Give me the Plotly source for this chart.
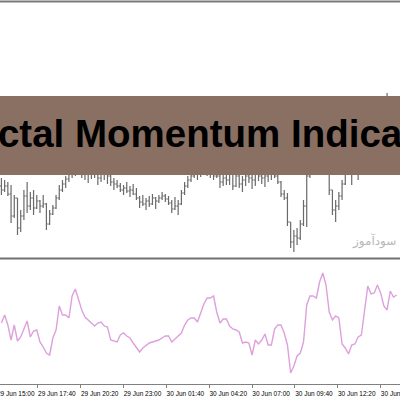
import plotly.graph_objects as go
import pandas as pd

# ---- data ----
times = pd.date_range("2020-06-29 15:24", periods=124, freq="12min")

lows = [61, 64, 60, 33, 38, 21, 24, 36, 43, 46,
        41, 47, 43, 48, 26, 31, 41, 47, 56, 64,
        68, 74, 78, 80, 81, 78, 76, 73, 77, 78,
        71, 74, 76, 72, 70, 66, 68, 64, 61, 63,
        59, 61, 56, 48, 50, 46, 49, 51, 47, 53,
        56, 54, 51, 43, 46, 41, 51, 61, 68, 74,
        78, 76, 79, 81, 80, 78, 76, 78, 68, 70,
        71, 71, 66, 69, 68, 64, 70, 73, 67, 70,
        75, 72, 69, 74, 76, 78, 72, 59, 56, 30,
        8, 4, 11, 16, 30, 29, 78, 88, 96, 91,
        86, 83, 61, 41, 34, 46, 56, 71, 84, 71,
        82, 76, 84, 88, 91, 96, 94, 98, 101, 106,
        116, 111, 106, 108]

highs = [78, 76, 74, 71, 61, 58, 46, 66, 74, 64,
         66, 61, 56, 61, 53, 46, 51, 61, 71, 76,
         80, 91, 96, 106, 104, 101, 96, 94, 98, 96,
         93, 93, 96, 90, 86, 78, 76, 73, 71, 74,
         70, 72, 68, 60, 61, 58, 60, 62, 59, 61,
         64, 62, 60, 56, 59, 56, 66, 74, 80, 84,
         88, 86, 91, 96, 94, 92, 90, 91, 81, 82,
         84, 86, 83, 86, 84, 80, 84, 88, 82, 84,
         88, 86, 83, 88, 90, 91, 86, 75, 66, 63,
         34, 26, 28, 36, 56, 86, 106, 116, 121, 116,
         106, 101, 88, 66, 56, 64, 76, 86, 101, 96,
         98, 91, 106, 111, 116, 121, 118, 126, 131, 136,
         163, 141, 136, 138]

closes = [66, 70, 62, 40, 58, 28, 40, 60, 50, 58,
          48, 55, 50, 52, 32, 42, 48, 58, 66, 72,
          77, 86, 90, 100, 88, 94, 82, 90, 84, 92,
          78, 88, 82, 80, 74, 72, 70, 66, 68, 65,
          66, 62, 58, 54, 52, 55, 52, 58, 55, 58,
          60, 57, 53, 47, 50, 52, 63, 70, 76, 80,
          84, 82, 88, 90, 84, 88, 80, 80, 74, 78,
          76, 82, 70, 80, 72, 76, 80, 78, 76, 82,
          80, 78, 80, 84, 82, 80, 74, 62, 58, 34,
          14, 20, 18, 32, 50, 80, 100, 110, 104, 96,
          90, 86, 66, 46, 50, 60, 72, 84, 95, 86,
          92, 88, 100, 105, 110, 102, 112, 120, 125, 130,
          136, 120, 130, 125]

first_open = 70
opens = [first_open] + closes[:-1]

momentum = [61, 69, 59, 44, 59, 43, 47, 56, 63, 47,
            53, 54, 42, 37, 31, 29, 46, 54, 78, 69,
            69, 66, 88, 95, 84, 74, 67, 64, 62, 58,
            61, 62, 58, 57, 44, 43, 42, 49, 51, 48,
            46, 41, 36, 32, 36, 39, 41, 42, 43, 44,
            46, 48, 48, 42, 45, 48, 51, 59, 64, 66,
            66, 62, 71, 80, 86, 86, 88, 72, 61, 65,
            65, 58, 55, 54, 52, 41, 42, 41, 29, 44,
            40, 44, 50, 39, 39, 55, 59, 59, 51, 39,
            11, 18, 28, 31, 42, 79, 88, 88, 86, 102,
            111, 99, 72, 64, 68, 66, 40, 36, 30, 39,
            40, 47, 49, 74, 98, 90, 91, 99, 91, 78,
            74, 93, 87, 89]

title_text = "Fractal Momentum Indicator"
watermark_text = "سودآموز"
first_tick_label = "29 Jun 15:00"

# ---- figure ----
bar_gray = "#6a6a6a"
fig = go.Figure()
fig.add_trace(go.Ohlc(
    x=times, open=opens, high=highs, low=lows, close=closes,
    xaxis="x2", yaxis="y2", tickwidth=0.45,
    increasing=dict(line=dict(color=bar_gray, width=1.2)),
    decreasing=dict(line=dict(color=bar_gray, width=1.2)),
    showlegend=False, hoverinfo="skip"))
fig.add_trace(go.Scatter(
    x=times, y=momentum, mode="lines", xaxis="x", yaxis="y",
    line=dict(color="#DDA0DD", width=1.4), showlegend=False, hoverinfo="skip"))

H = 384.0
tick_font = dict(family="Liberation Sans", size=6.5, color="#000000")

fig.update_layout(
    width=400, height=400,
    margin=dict(l=0, r=0, t=0, b=16, autoexpand=False),
    paper_bgcolor="white", plot_bgcolor="white",
    showlegend=False,
    xaxis=dict(
        domain=[0, 1], anchor="y", type="date", automargin=False,
        range=["2020-06-29 15:18:42", "2020-06-30 16:12:18"],
        tick0="2020-06-29 15:00", dtick=160 * 60 * 1000,
        tickformat="%d %b %H:%M", ticks="outside", ticklen=3,
        tickcolor="#808080", showline=True, linecolor="#808080", linewidth=1,
        showgrid=False, zeroline=False, tickfont=tick_font,
        ticklabelshift=19, ticklabeloverflow="allow", fixedrange=True),
    yaxis=dict(domain=[0, 125 / H], range=[0, 125], visible=False,
               fixedrange=True, automargin=False),
    xaxis2=dict(matches="x", anchor="y2", visible=False, showgrid=False,
                automargin=False, rangeslider=dict(visible=False)),
    yaxis2=dict(domain=[(H - 256) / H, (H - 3) / H], range=[0, 253],
                visible=False, fixedrange=True, automargin=False),
    shapes=[
        dict(type="line", xref="paper", yref="paper", x0=0, x1=1,
             y0=(H - 1.5) / H, y1=(H - 1.5) / H, line=dict(color="#7a7a7a", width=2)),
        dict(type="line", xref="paper", yref="paper", x0=0, x1=1,
             y0=(H - 258.5) / H, y1=(H - 258.5) / H, line=dict(color="#707070", width=2)),
        dict(type="rect", xref="paper", yref="paper", x0=-0.01, x1=1.01,
             y0=(H - 175) / H, y1=(H - 96) / H, fillcolor="#8A7062",
             line=dict(width=0), layer="above"),
    ],
    annotations=[
        dict(text="<b>" + title_text + "</b>", xref="paper", yref="paper",
             x=196 / 400, y=(H - 133) / H, xanchor="center", yanchor="middle",
             showarrow=False, font=dict(family="Liberation Sans", size=38.5, color="#000000")),
        dict(text=watermark_text, xref="paper", yref="paper",
             x=398 / 400, y=(H - 241) / H, xanchor="right", yanchor="middle",
             showarrow=False, font=dict(family="DejaVu Sans", size=12, color="#b8b8b8")),
        dict(text=first_tick_label, xref="paper", yref="paper",
             x=-5 / 400, y=-9 / H, xanchor="left", yanchor="middle",
             showarrow=False, font=tick_font),
    ],
)

fig.write_html("out.html")
